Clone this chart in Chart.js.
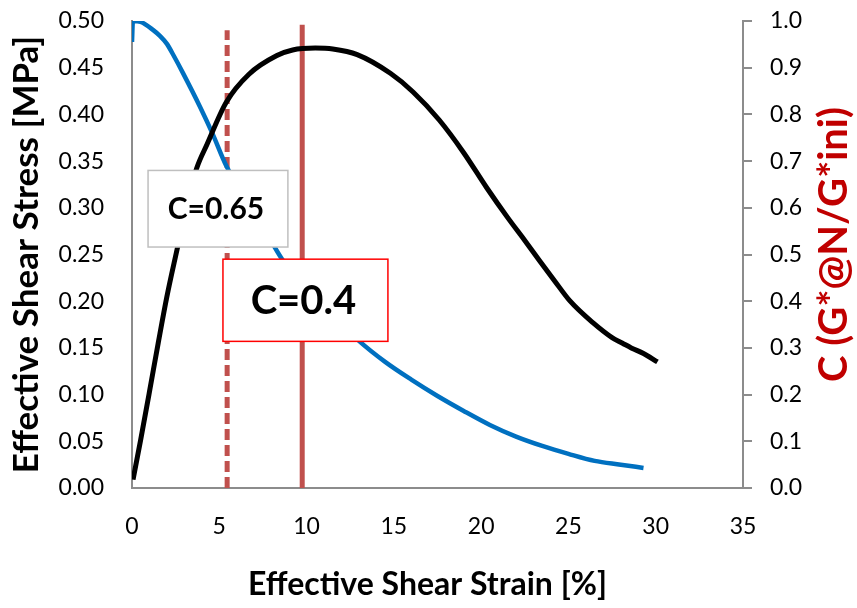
<!DOCTYPE html>
<html>
<head>
<meta charset="utf-8">
<script src="https://cdn.jsdelivr.net/npm/chart.js@4.4.0/dist/chart.umd.min.js"></script>
<style>
  html, body { margin: 0; padding: 0; background: #fff; }
  #wrap { width: 857px; height: 608px; }
</style>
</head>
<body>
<div id="wrap"><canvas id="chart"></canvas></div>
<script>
// Effective shear stress [MPa] vs strain (black curve, left axis)
const strainStress = [0.06, 0.5, 1.0, 1.5, 2.0, 2.6, 3.1, 3.7, 4.3, 5.4, 6.7, 8.3, 9.2, 10.5, 11.5, 12.9, 14.8, 16.1, 17.6, 19.0, 20.3, 21.5, 22.5, 23.4, 24.2, 25.1, 26.4, 27.5, 28.1, 28.6, 29.3, 30.1];
const stress = [0.009, 0.052, 0.103, 0.155, 0.205, 0.257, 0.300, 0.342, 0.368, 0.413, 0.443, 0.463, 0.469, 0.471, 0.470, 0.464, 0.444, 0.424, 0.394, 0.359, 0.322, 0.290, 0.265, 0.242, 0.222, 0.200, 0.177, 0.161, 0.155, 0.150, 0.144, 0.135];

// C = G*@N / G*ini vs strain (blue curve, right axis)
const strainC = [0.0, 0.05, 0.5, 1.2, 1.6, 2.0, 2.4, 2.9, 3.9, 4.6, 5.4, 6.5, 7.5, 8.6, 10.0, 11.5, 13.0, 14.5, 16.0, 17.5, 19.0, 20.5, 22.0, 23.5, 25.0, 26.5, 28.0, 29.3];
const cRatio = [0.955, 1.0, 0.998, 0.981, 0.968, 0.951, 0.925, 0.89, 0.816, 0.76, 0.69, 0.62, 0.56, 0.49, 0.43, 0.37, 0.315, 0.27, 0.232, 0.197, 0.165, 0.135, 0.11, 0.09, 0.073, 0.058, 0.05, 0.043];

// failure criterion markers (vertical lines)
const markerStrain = [5.45, 9.75];
const markerTop = [0.49, 0.496];
const markerLabels = ['C=0.65', 'C=0.4'];

const FONT = 'Lato, "Open Sans", sans-serif';
const axisGray = '#8c8c8c';
const markerRed = '#C0504D';

function pts(xs, ys) {
    return xs.map((x, i) => ({ x: x, y: ys[i] }));
}

// label boxes, drawn over the lines (coords in data units)
const labelBoxes = {
    id: 'labelBoxes',
    afterDatasetsDraw(chart) {
        const ctx = chart.ctx;
        const xs = chart.scales.x, ys = chart.scales.y;
        const boxes = [
            { text: markerLabels[0], x0: 0.92, x1: 8.93, y0: 0.340, y1: 0.258, border: '#bfbfbf', size: 30 },
            { text: markerLabels[1], x0: 5.21, x1: 14.66, y0: 0.245, y1: 0.157, border: '#ff0000', size: 40 }
        ];
        ctx.save();
        boxes.forEach(b => {
            const l = xs.getPixelForValue(b.x0), r = xs.getPixelForValue(b.x1);
            const t = ys.getPixelForValue(b.y0), btm = ys.getPixelForValue(b.y1);
            ctx.fillStyle = '#fff';
            ctx.fillRect(l, t, r - l, btm - t);
            ctx.strokeStyle = b.border;
            ctx.lineWidth = 1.5;
            ctx.strokeRect(l, t, r - l, btm - t);
            ctx.fillStyle = '#000';
            ctx.font = 'bold ' + b.size + 'px ' + FONT;
            ctx.textAlign = 'center';
            ctx.textBaseline = 'middle';
            ctx.fillText(b.text, (l + r) / 2 - 2, (t + btm) / 2 + 1);
        });
        ctx.restore();
    }
};

// x title sits a little left of centre, right title reads bottom-to-top
const axisTitles = {
    id: 'axisTitles',
    afterDraw(chart) {
        const ctx = chart.ctx;
        const area = chart.chartArea;
        ctx.save();
        ctx.textAlign = 'center';
        ctx.textBaseline = 'middle';
        ctx.font = 'bold 32px ' + FONT;
        ctx.fillStyle = '#000';
        ctx.fillText('Effective Shear Strain [%]', (area.left + area.right) / 2 - 10, 585);

        ctx.translate(834, (area.top + area.bottom) / 2 - 10);
        ctx.rotate(-Math.PI / 2);
        ctx.font = 'bold 40px ' + FONT;
        ctx.fillStyle = '#C00000';
        ctx.fillText('C (G*@N/G*ini)', 0, 0);
        ctx.restore();
    }
};

// vertical scales add tick padding to their top margin; keep the plot top at 21px
function fixVertical(width) {
    return function(scale) {
        scale.width = width;
        scale.paddingTop = 12;
        scale.paddingBottom = 12;
    };
}

const ctx = document.getElementById('chart').getContext('2d');
const chart = new Chart(ctx, {
    type: 'line',
    data: {
        datasets: [{
            label: 'Effective Shear Stress',
            data: pts(strainStress, stress),
            borderColor: '#000000',
            borderWidth: 5,
            pointRadius: 0,
            cubicInterpolationMode: 'monotone',
            yAxisID: 'y'
        }, {
            label: 'C',
            data: pts(strainC, cRatio),
            borderColor: '#0070C0',
            borderWidth: 4.5,
            pointRadius: 0,
            cubicInterpolationMode: 'monotone',
            yAxisID: 'y1'
        }, {
            label: markerLabels[0],
            data: [{ x: markerStrain[0], y: 0 }, { x: markerStrain[0], y: markerTop[0] }],
            borderColor: markerRed,
            borderWidth: 5,
            borderDash: [11, 5],
            pointRadius: 0,
            yAxisID: 'y'
        }, {
            label: markerLabels[1],
            data: [{ x: markerStrain[1], y: 0 }, { x: markerStrain[1], y: markerTop[1] }],
            borderColor: markerRed,
            borderWidth: 5,
            pointRadius: 0,
            yAxisID: 'y'
        }]
    },
    options: {
        responsive: true,
        maintainAspectRatio: false,
        animation: false,
        layout: { padding: { top: 21 } },
        plugins: {
            legend: { display: false },
            tooltip: { enabled: false }
        },
        scales: {
            x: {
                type: 'linear',
                min: 0,
                max: 35,
                ticks: {
                    stepSize: 5,
                    padding: 25,
                    color: '#000',
                    font: { family: FONT, size: 23 }
                },
                grid: { display: false, drawTicks: false },
                border: { display: true, color: axisGray, width: 2 },
                afterFit(scale) { scale.height = 120; }
            },
            y: {
                type: 'linear',
                position: 'left',
                min: 0,
                max: 0.5,
                ticks: {
                    stepSize: 0.05,
                    padding: 28,
                    color: '#000',
                    font: { family: FONT, size: 23 },
                    callback: v => v.toFixed(2)
                },
                grid: { display: false, drawTicks: false },
                border: { display: true, color: axisGray, width: 2 },
                title: {
                    display: true,
                    text: 'Effective Shear Stress [MPa]',
                    color: '#000',
                    font: { family: FONT, size: 35, weight: 'bold' },
                    padding: { top: 6, bottom: 0 }
                },
                afterFit: fixVertical(132)
            },
            y1: {
                type: 'linear',
                position: 'right',
                min: 0,
                max: 1,
                ticks: {
                    stepSize: 0.1,
                    padding: 18,
                    color: '#000',
                    font: { family: FONT, size: 23 },
                    callback: v => v.toFixed(1)
                },
                grid: { drawOnChartArea: false, drawTicks: true, tickLength: 9, color: axisGray, lineWidth: 2 },
                border: { display: true, color: axisGray, width: 2 },
                afterFit: fixVertical(114)
            }
        }
    },
    plugins: [labelBoxes, axisTitles]
});
</script>
</body>
</html>
